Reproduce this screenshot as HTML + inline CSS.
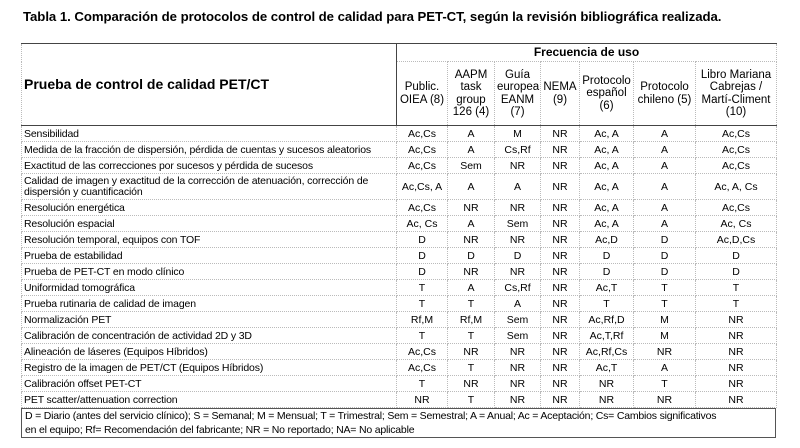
<!DOCTYPE html>
<html><head><meta charset="utf-8"><style>
body{margin:0;width:800px;height:448px;background:#fff;font-family:"Liberation Sans",Arial,sans-serif;color:#000;position:relative;overflow:hidden}
.title{position:absolute;left:23px;top:9px;font-weight:bold;font-size:13.2px;letter-spacing:-0.05px}
table{position:absolute;left:21px;top:43px;border-collapse:collapse;table-layout:fixed;width:755px}
td{border:1px dotted #bbb;padding:0 2px;font-size:10.5px;text-align:center;white-space:nowrap;overflow:hidden;line-height:12px;height:15px}
td.l{text-align:left;letter-spacing:-0.15px}
tr.hd td{font-size:11.5px;line-height:12.5px}
.big{font-weight:bold;font-size:14px!important;text-align:left!important;border-top:1px solid #444;border-right:1px solid #444;border-bottom:1px solid #444!important}
.fr{font-weight:bold;font-size:12px!important;border-top:1px solid #444;height:17px}
tr.sub td{border-bottom:1px solid #444;height:63px}
.leg{position:absolute;left:21px;top:408px;width:747px;height:28px;border:1px solid #555;font-size:10.5px;line-height:14px;padding:0 3px;letter-spacing:-0.2px}
</style></head><body>
<div class="title">Tabla 1. Comparación de protocolos de control de calidad para PET-CT, según la revisión bibliográfica realizada.</div>
<table>
<colgroup><col style="width:375px"><col style="width:51px"><col style="width:47px"><col style="width:46px"><col style="width:39px"><col style="width:54px"><col style="width:62px"><col style="width:81px"></colgroup>
<tr class="hd"><td rowspan="2" class="big">Prueba de control de calidad PET/CT</td><td colspan="7" class="fr">Frecuencia de uso</td></tr>
<tr class="hd sub"><td>Public.<br>OIEA (8)</td><td>AAPM<br>task<br>group<br>126 (4)</td><td>Guía<br>europea<br>EANM<br>(7)</td><td>NEMA<br>(9)</td><td>Protocolo<br>español<br>(6)</td><td>Protocolo<br>chileno (5)</td><td>Libro Mariana<br>Cabrejas /<br>Martí-Climent<br>(10)</td></tr>
<tr><td class="l">Sensibilidad</td><td>Ac,Cs</td><td>A</td><td>M</td><td>NR</td><td>Ac, A</td><td>A</td><td>Ac,Cs</td></tr>
<tr><td class="l">Medida de la fracción de dispersión, pérdida de cuentas y sucesos aleatorios</td><td>Ac,Cs</td><td>A</td><td>Cs,Rf</td><td>NR</td><td>Ac, A</td><td>A</td><td>Ac,Cs</td></tr>
<tr><td class="l">Exactitud de las correcciones por sucesos y pérdida de sucesos</td><td>Ac,Cs</td><td>Sem</td><td>NR</td><td>NR</td><td>Ac, A</td><td>A</td><td>Ac,Cs</td></tr>
<tr><td class="l" style="height:25px;line-height:11px">Calidad de imagen y exactitud de la corrección de atenuación, corrección de<br>dispersión y cuantificación</td><td>Ac,Cs, A</td><td>A</td><td>A</td><td>NR</td><td>Ac, A</td><td>A</td><td>Ac, A, Cs</td></tr>
<tr><td class="l">Resolución energética</td><td>Ac,Cs</td><td>NR</td><td>NR</td><td>NR</td><td>Ac, A</td><td>A</td><td>Ac,Cs</td></tr>
<tr><td class="l">Resolución espacial</td><td>Ac, Cs</td><td>A</td><td>Sem</td><td>NR</td><td>Ac, A</td><td>A</td><td>Ac, Cs</td></tr>
<tr><td class="l">Resolución temporal, equipos con TOF</td><td>D</td><td>NR</td><td>NR</td><td>NR</td><td>Ac,D</td><td>D</td><td>Ac,D,Cs</td></tr>
<tr><td class="l">Prueba de estabilidad</td><td>D</td><td>D</td><td>D</td><td>NR</td><td>D</td><td>D</td><td>D</td></tr>
<tr><td class="l">Prueba de PET-CT en modo clínico</td><td>D</td><td>NR</td><td>NR</td><td>NR</td><td>D</td><td>D</td><td>D</td></tr>
<tr><td class="l">Uniformidad tomográfica</td><td>T</td><td>A</td><td>Cs,Rf</td><td>NR</td><td>Ac,T</td><td>T</td><td>T</td></tr>
<tr><td class="l">Prueba rutinaria de calidad de imagen</td><td>T</td><td>T</td><td>A</td><td>NR</td><td>T</td><td>T</td><td>T</td></tr>
<tr><td class="l">Normalización PET</td><td>Rf,M</td><td>Rf,M</td><td>Sem</td><td>NR</td><td>Ac,Rf,D</td><td>M</td><td>NR</td></tr>
<tr><td class="l">Calibración de concentración de actividad 2D y 3D</td><td>T</td><td>T</td><td>Sem</td><td>NR</td><td>Ac,T,Rf</td><td>M</td><td>NR</td></tr>
<tr><td class="l">Alineación de láseres (Equipos Híbridos)</td><td>Ac,Cs</td><td>NR</td><td>NR</td><td>NR</td><td>Ac,Rf,Cs</td><td>NR</td><td>NR</td></tr>
<tr><td class="l">Registro de la imagen de PET/CT (Equipos Híbridos)</td><td>Ac,Cs</td><td>T</td><td>NR</td><td>NR</td><td>Ac,T</td><td>A</td><td>NR</td></tr>
<tr><td class="l">Calibración offset PET-CT</td><td>T</td><td>NR</td><td>NR</td><td>NR</td><td>NR</td><td>T</td><td>NR</td></tr>
<tr><td class="l">PET scatter/attenuation correction</td><td>NR</td><td>T</td><td>NR</td><td>NR</td><td>NR</td><td>NR</td><td>NR</td></tr>
</table>
<div class="leg">D = Diario (antes del servicio clínico); S = Semanal; M = Mensual; T = Trimestral; Sem = Semestral; A = Anual; Ac = Aceptación; Cs= Cambios significativos<br>en el equipo; Rf= Recomendación del fabricante; NR = No reportado; NA= No aplicable</div>
</body></html>
